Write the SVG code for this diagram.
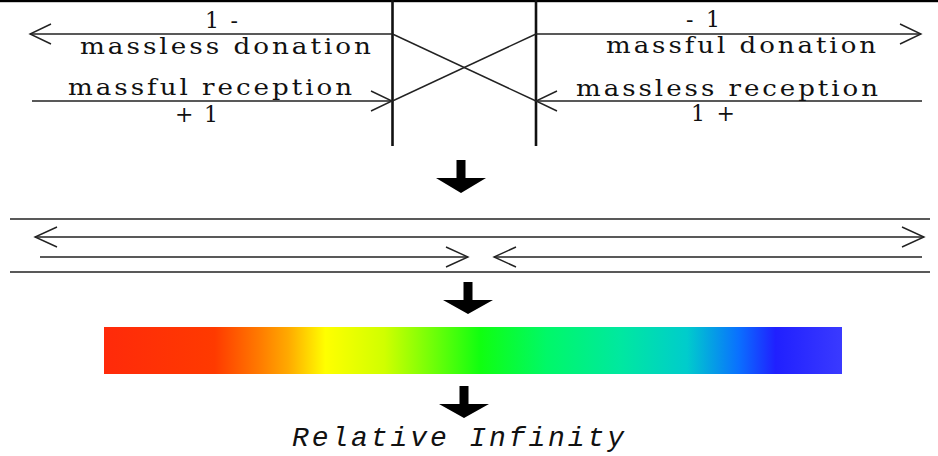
<svg xmlns="http://www.w3.org/2000/svg" width="938" height="456" viewBox="0 0 938 456">
<style>
.ln{stroke:#222;stroke-width:1.4;fill:none}
.hd{stroke:#222;stroke-width:1.4;fill:none;stroke-linejoin:miter}
.vb{stroke:#111;stroke-width:2.6;fill:none}
.lbl{font-family:"DejaVu Serif","Liberation Serif",serif;font-size:22px;fill:#111}
.wide{letter-spacing:2.5px}
.blk{fill:#000}
</style>
<defs>
<linearGradient id="spec" x1="0" y1="0" x2="1" y2="0">
<stop offset="0" stop-color="#ff2a0a"/>
<stop offset="0.15" stop-color="#ff3a00"/>
<stop offset="0.21" stop-color="#ff7a00"/>
<stop offset="0.25" stop-color="#ffaa00"/>
<stop offset="0.30" stop-color="#ffff00"/>
<stop offset="0.38" stop-color="#d0ff00"/>
<stop offset="0.51" stop-color="#10ff10"/>
<stop offset="0.60" stop-color="#00f868"/>
<stop offset="0.70" stop-color="#00e8a0"/>
<stop offset="0.79" stop-color="#00cccc"/>
<stop offset="0.86" stop-color="#0a70ff"/>
<stop offset="0.91" stop-color="#2020ff"/>
<stop offset="1" stop-color="#3a3aff"/>
</linearGradient>
</defs>
<rect x="0" y="0" width="938" height="2.2" fill="#000"/>
<g id="connectors">
<line class="vb" x1="392.5" y1="0" x2="392.5" y2="146"/>
<line class="vb" x1="536" y1="0" x2="536" y2="146"/>
<line class="ln" x1="392.5" y1="34" x2="536" y2="101"/>
<line class="ln" x1="392.5" y1="101" x2="536" y2="34"/>
<line class="ln" x1="30" y1="34" x2="392.5" y2="34"/>
<polyline class="hd" points="51,24 30,34 51,44"/>
<line class="ln" x1="32" y1="101" x2="392.5" y2="101"/>
<polyline class="hd" points="371,91 392,101 371,111"/>
<line class="ln" x1="536" y1="34" x2="921" y2="34"/>
<polyline class="hd" points="900,24 921,34 900,44"/>
<line class="ln" x1="536" y1="101" x2="922" y2="101"/>
<polyline class="hd" points="557,91 536,101 557,111"/>
<line class="ln" x1="10" y1="219" x2="930" y2="219"/>
<line class="ln" x1="10" y1="272" x2="930" y2="272"/>
<line class="ln" x1="35" y1="237" x2="924" y2="237"/>
<polyline class="hd" points="57,227 35,237 57,247"/>
<polyline class="hd" points="902,227 924,237 902,247"/>
<line class="ln" x1="40" y1="257" x2="468" y2="257"/>
<polyline class="hd" points="446,247 468,257 446,267"/>
<line class="ln" x1="494" y1="257" x2="922" y2="257"/>
<polyline class="hd" points="516,247 494,257 516,267"/>
<polygon class="blk" points="456.5,160 465.5,160 465.5,178 486,178 461,193 436,178 456.5,178"/>
<polygon class="blk" points="463.5,282 472.5,282 472.5,300 493,300 468,314 443,300 463.5,300"/>
<polygon class="blk" points="459.5,386 468.5,386 468.5,404 489,404 464,418 439,404 459.5,404"/>
</g>
<g id="left-labels">
<text class="lbl" x="205" y="28" textLength="33" lengthAdjust="spacing">1-</text>
<text class="lbl wide" x="80" y="54" textLength="294" lengthAdjust="spacingAndGlyphs">massless donation</text>
<text class="lbl wide" x="68" y="95" textLength="287" lengthAdjust="spacingAndGlyphs">massful reception</text>
<text class="lbl" x="175" y="122" textLength="43" lengthAdjust="spacing">+1</text>
</g>
<g id="right-labels">
<text class="lbl" x="686" y="27" textLength="34" lengthAdjust="spacing">-1</text>
<text class="lbl wide" x="606" y="53" textLength="273" lengthAdjust="spacingAndGlyphs">massful donation</text>
<text class="lbl wide" x="576" y="96" textLength="305" lengthAdjust="spacingAndGlyphs">massless reception</text>
<text class="lbl" x="691" y="121" textLength="44" lengthAdjust="spacing">1+</text>
</g>
<g id="spectrum">
<rect x="104" y="327" width="738" height="47" fill="url(#spec)"/>
</g>
<g id="relative-infinity">
<text x="292" y="446" textLength="332" lengthAdjust="spacing" font-family="'Liberation Mono','Courier New',monospace" font-style="italic" font-size="28" fill="#111">Relative Infinity</text>
</g>
</svg>
